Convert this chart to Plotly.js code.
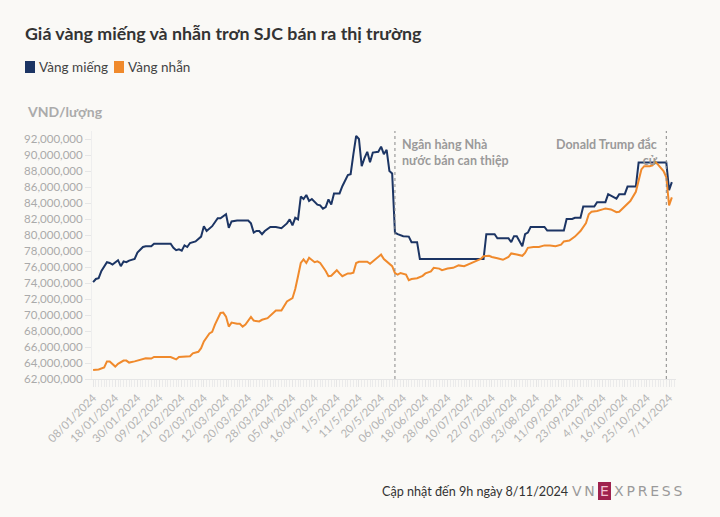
<!DOCTYPE html>
<html>
<head>
<meta charset="utf-8">
<script src="https://cdn.plot.ly/plotly-3.0.1.min.js"></script>
<style>
  html, body { margin: 0; padding: 0; background: #faf9f6; }
  #chart { width: 720px; height: 517px; }
</style>
</head>
<body>
<div id="chart"></div>
<script>
// ---- Data (values in million VND / lượng), x = trading-day index ----
const tickLabels = ["08/01/2024","18/01/2024","30/01/2024","09/02/2024","21/02/2024","02/03/2024",
  "12/03/2024","20/03/2024","28/03/2024","05/04/2024","16/04/2024","1/5/2024","11/5/2024","20/5/2024",
  "06/06/2024","18/06/2024","28/06/2024","10/07/2024","22/07/2024","02/08/2024","23/08/2024",
  "11/09/2024","23/09/2024","4/10/2024","16/10/2024","25/10/2024","7/11/2024"];
const tickIdx = [0,8,16,24,32,40,48,56,64,72,80,88,96,104,112,120,128,136,144,152,160,168,176,184,192,200,208];

const idxMieng = [0,1,2,3,5,6,7,8,9,10,11,12,13,15,16,18,19,21,22,28,29,30,31,32,33,34,35,37,39,40,41,43,45,46,47,48,49,50,52,56,57,58,59,60,61,62,64,66,68,69,70,71,72,73,74,75,76,77,78,79,81,82,83,84,85,86,87,89,90,92,93,94,95,96,97,98,99,100,101,103,104,105,106,107,108,109,110,112,114,115,117,118,141,142,145,146,150,151,152,153,154,155,156,157,158,163,164,170,171,173,174,176,177,181,182,185,186,188,189,190,192,193,196,197,207,208,209];
const valMieng = [74.1,74.5,74.6,75.5,76.6,76.5,76.3,76.6,76.85,76.1,76.7,76.6,76.8,77.0,77.8,78.5,78.6,78.6,78.9,78.9,78.4,78.1,78.2,78.05,78.7,78.5,79.0,79.2,79.8,81.1,80.5,81.1,82.1,82.1,82.4,82.6,80.9,81.7,81.8,81.8,81.45,80.3,80.5,80.5,80.1,80.5,81.0,81.0,80.85,81.1,81.45,81.95,81.2,82.15,81.95,84.8,84.5,85.0,84.25,84.5,83.8,83.7,83.3,83.5,84.45,83.8,85.2,85.2,86.1,87.5,87.6,90.1,92.4,92.0,88.6,89.6,90.4,89.1,90.3,90.4,91.05,90.1,90.65,88.0,87.7,80.3,80.1,79.85,79.8,79.1,79.1,77.0,77.0,80.1,80.1,79.6,79.6,79.1,79.85,79.85,79.3,78.6,80.1,80.3,81.0,81.0,80.55,80.55,82.0,82.0,82.15,82.15,83.55,83.55,84.1,84.1,85.1,84.8,84.55,85.1,85.1,86.05,86.05,89.05,89.05,85.6,86.6];

const idxNhan = [0,2,4,5,6,8,9,11,12,13,15,17,19,21,22,28,29,30,31,34,35,36,38,39,40,42,43,44,45,46,47,48,49,50,52,53,54,55,57,58,60,61,63,65,66,68,69,70,72,73,74,75,76,77,78,80,81,82,84,85,86,87,88,89,90,92,93,94,95,96,99,100,102,104,105,106,108,109,110,111,113,114,115,117,119,120,122,123,125,126,128,130,132,134,136,138,140,141,143,144,146,148,150,151,153,155,156,157,159,161,163,165,167,169,170,172,174,176,178,179,180,182,184,185,187,189,190,192,194,196,197,198,199,201,202,203,204,205,206,207,208,209];
const valNhan = [63.13,63.2,63.45,64.2,64.2,63.55,63.9,64.3,64.3,64.05,64.2,64.4,64.6,64.55,64.75,64.75,64.6,64.45,64.75,64.85,64.85,65.2,65.4,65.85,66.7,67.7,67.9,68.8,69.6,70.25,70.3,69.8,68.55,69.05,68.9,68.9,68.55,68.8,69.75,69.3,69.2,69.4,69.6,70.25,70.55,70.55,71.05,71.7,72.1,73.25,74.85,76.5,76.95,76.5,77.15,76.6,76.7,76.5,75.5,74.85,74.9,75.2,75.6,75.2,74.85,75.2,75.2,75.3,76.5,76.65,76.65,76.4,77.0,77.55,77.0,76.7,76.1,75.25,75.05,75.25,75.05,74.35,74.5,74.6,74.9,75.2,75.45,75.9,75.8,75.6,75.8,75.9,76.2,76.1,76.45,76.7,77.0,77.35,77.4,77.25,77.1,76.9,77.25,77.7,77.55,77.4,77.75,78.4,78.5,78.5,78.7,78.7,78.6,78.8,79.2,79.3,79.8,80.5,81.5,82.6,82.9,83.0,83.2,83.3,83.2,82.85,82.9,83.6,84.25,85.4,86.75,88.2,88.6,88.6,88.7,89.15,88.8,88.45,88.0,87.2,83.7,84.7];

const eventIdx = [109, 207];
const eventLabels = ["Ngân hàng Nhà<br>nước bán can thiệp", "Donald Trump đắc<br>cử"];

const seriesNames = ["Vàng miếng", "Vàng nhẫn"];
const seriesColors = ["#1c3564", "#f08a2c"];

// ---- Layout helpers (pixel -> paper) ----
const W = 720, H = 517;
const M = { l: 92, r: 44, t: 131, b: 138 };
const PW = W - M.l - M.r, PH = H - M.t - M.b;
const px = x => (x - M.l) / PW;
const py = y => (H - M.b - y) / PH;

const FONT = "Lato, 'Noto Sans', sans-serif";
const toVnd = a => a.map(v => v * 1e6);

const traces = [
  { x: idxMieng, y: toVnd(valMieng), name: seriesNames[0], type: "scatter", mode: "lines",
    line: { color: seriesColors[0], width: 2 }, showlegend: false },
  { x: idxNhan, y: toVnd(valNhan), name: seriesNames[1], type: "scatter", mode: "lines",
    line: { color: seriesColors[1], width: 2 }, showlegend: false }
];

const shapes = [];
const annotations = [];

// event lines
eventIdx.forEach(ix => {
  shapes.push({ type: "line", xref: "x", yref: "paper", x0: ix, x1: ix, y0: 0, y1: 1,
    line: { color: "#888", width: 1, dash: "dot" } });
});
annotations.push({ x: eventIdx[0], xref: "x", y: py(135), yref: "paper", xshift: 5,
  xanchor: "left", yanchor: "top", align: "left", showarrow: false,
  text: "<b>" + eventLabels[0] + "</b>", font: { family: FONT, size: 12.5, color: "#9a9a9a" } });
annotations.push({ x: eventIdx[1], xref: "x", y: py(135), yref: "paper", xshift: -6,
  xanchor: "right", yanchor: "top", align: "right", showarrow: false,
  text: "<b>" + eventLabels[1] + "</b>", font: { family: FONT, size: 12.5, color: "#9a9a9a" } });

// custom legend
const legX = [25, 114];
seriesNames.forEach((n, i) => {
  shapes.push({ type: "rect", xref: "paper", yref: "paper",
    x0: px(legX[i]), x1: px(legX[i] + 10), y0: py(73), y1: py(61),
    fillcolor: seriesColors[i], line: { width: 0 } });
  annotations.push({ x: px(legX[i] + 12), y: py(67), xref: "paper", yref: "paper",
    xanchor: "left", yanchor: "middle", showarrow: false, text: n,
    font: { family: FONT, size: 13.5, color: "#444" } });
});

// y-axis unit
annotations.push({ x: px(25), y: py(111), xref: "paper", yref: "paper", xanchor: "left", yanchor: "middle",
  showarrow: false, text: "<b>VND/lượng</b>", font: { family: FONT, size: 14, color: "#ababab" } });

// footer
annotations.push({ x: px(380), y: py(491), xref: "paper", yref: "paper", xanchor: "left", yanchor: "middle",
  showarrow: false, text: "Cập nhật đến 9h ngày 8/11/2024", font: { family: FONT, size: 12.6, color: "#333" } });
// logo
annotations.push({ x: px(597), y: py(491), xref: "paper", yref: "paper", xanchor: "right", yanchor: "middle",
  showarrow: false, text: "V\u2009N", font: { family: "DejaVu Sans", size: 14, color: "#9a9a9a" } });
shapes.push({ type: "rect", xref: "paper", yref: "paper", x0: px(598), x1: px(611), y0: py(500), y1: py(482),
  fillcolor: "#9f224e", line: { width: 0 } });
annotations.push({ x: px(604.5), y: py(491), xref: "paper", yref: "paper", xanchor: "center", yanchor: "middle",
  showarrow: false, text: "E", font: { family: "DejaVu Sans", size: 14, color: "#f3c3d3" } });
annotations.push({ x: px(612), y: py(491), xref: "paper", yref: "paper", xanchor: "left", yanchor: "middle",
  showarrow: false, text: "X\u2009P\u2009R\u2009E\u2009S\u2009S", font: { family: "DejaVu Sans", size: 14, color: "#9a9a9a" } });

const layout = {
  width: W, height: H,
  margin: M,
  paper_bgcolor: "#faf9f6", plot_bgcolor: "#faf9f6",
  font: { family: FONT },
  title: { text: "<b>Giá vàng miếng và nhẫn trơn SJC bán ra thị trường</b>", xref: "container", yref: "container",
    x: 25 / W, xanchor: "left", y: 1 - 34 / H, yanchor: "middle",
    font: { family: FONT, size: 17.8, color: "#333" } },
  xaxis: {
    range: [-0.4, 210.5], tickmode: "array", tickvals: tickIdx, ticktext: tickLabels,
    tickangle: -45, ticks: "outside", ticklen: 7, tickcolor: "#e6e6e6",
    minor: { tickmode: "linear", tick0: 0, dtick: 1, ticks: "outside", ticklen: 7, tickcolor: "#ebebeb", showgrid: false },
    showline: true, linecolor: "#e6e6e6", showgrid: false, zeroline: false,
    tickfont: { family: FONT, size: 11.3, color: "#b3b3b3" }
  },
  yaxis: {
    range: [62e6, 93e6], tick0: 62e6, dtick: 2e6, tickformat: ",d",
    ticks: "outside", ticklen: 6, tickcolor: "#e6e6e6",
    showline: true, linecolor: "#eeeeee", showgrid: false, zeroline: false,
    tickfont: { family: FONT, size: 11.5, color: "#aaa" }
  },
  shapes: shapes,
  annotations: annotations,
  showlegend: false
};

Plotly.newPlot("chart", traces, layout, { displayModeBar: false, staticPlot: true });
</script>
</body>
</html>
